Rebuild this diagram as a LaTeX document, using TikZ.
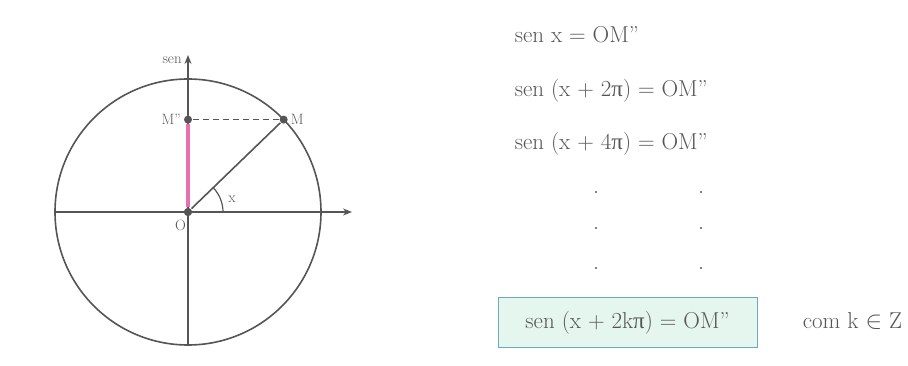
\documentclass[tikz,border=0pt]{standalone}
\usepackage{fontspec}
\newfontfamily\grk{Liberation Serif}
\usetikzlibrary{arrows.meta}
\definecolor{linegray}{RGB}{85,85,85}
\definecolor{textgray}{RGB}{85,85,85}
\definecolor{senpink}{RGB}{232,112,178}
\definecolor{boxfill}{RGB}{228,246,238}
\definecolor{boxline}{RGB}{105,170,195}
\begin{document}
\begin{tikzpicture}[x=1pt, y=1pt, >={Stealth[length=9pt,width=7pt]}, line width=1.6pt, draw=linegray,
		lbl/.style={text=textgray, font=\fontsize{15}{17}\selectfont, inner sep=1.5pt},
		eq/.style={text=textgray, font=\fontsize{23}{27}\selectfont, anchor=base west, inner sep=0pt},
		ponto/.style={circle, fill=linegray, inner sep=0pt, minimum size=8pt},
		caixa/.style={draw=boxline, fill=boxfill, line width=1pt, text=textgray, font=\fontsize{23}{27}\selectfont,
			minimum width=259pt, minimum height=50pt, text height=17pt, text depth=6pt}]
	\useasboundingbox (0,0) rectangle (908,366);
	
	% 1. circulo trigonometrico
	\node[ponto] (O) at (188,154) {};
	\draw (O.center) circle (133);
	
	% 2. eixos
	\coordinate (xesq) at (55,154);
	\coordinate (xdir) at (352,154);
	\coordinate (ybaixo) at (188,21);
	\coordinate (ycima) at (188,311);
	\draw[->] (xesq) -- (xdir);
	\draw[->] (ybaixo) -- (ycima);
	\node[lbl, anchor=east] (sen) at ([xshift=-4pt, yshift=-5pt]ycima) {sen};
	
	% 3. ponto M e sua projecao M''
	\path (O.center) ++(44:133) node[ponto] (M) {};
	\node[ponto] (M2) at (O |- M) {};
	\draw[senpink, line width=4pt] (O) -- (M2);
	\draw (O) -- (M);
	\draw[dash pattern=on 6pt off 4pt, line width=1pt] (M2) -- (M);
	\node[ponto] at (O) {};
	\draw[line width=1.2pt] ([xshift=35pt]O.center) arc[start angle=0, end angle=44, radius=35];
	
	% 4. rotulos
	\node[lbl, left] at (M2.west) {M''};
	\node[lbl, right] at (M.east) {M};
	\node[lbl] at (180.5,141) {O};
	\node[lbl] at (232,167) {x};
	
	% 5. igualdades
	\node[eq] (eq1) at (514,323) {sen x = OM''};
	\node[eq] (eq2) at (514,269) {sen (x + 2{\grk π}) = OM''};
	\node[eq] (eq3) at (514,216) {sen (x + 4{\grk π}) = OM''};
	\foreach \yy in {174,138,98}
		\foreach \xx in {596,701}
			\fill[textgray] (\xx,\yy) circle (1.1);
	\node[caixa] (eqk) at (627.5,43) {sen (x + 2k{\grk π}) = OM''};
	\node[eq] (cond) at (802,37.5) {com k $\in$ Z};
\end{tikzpicture}
\end{document}
